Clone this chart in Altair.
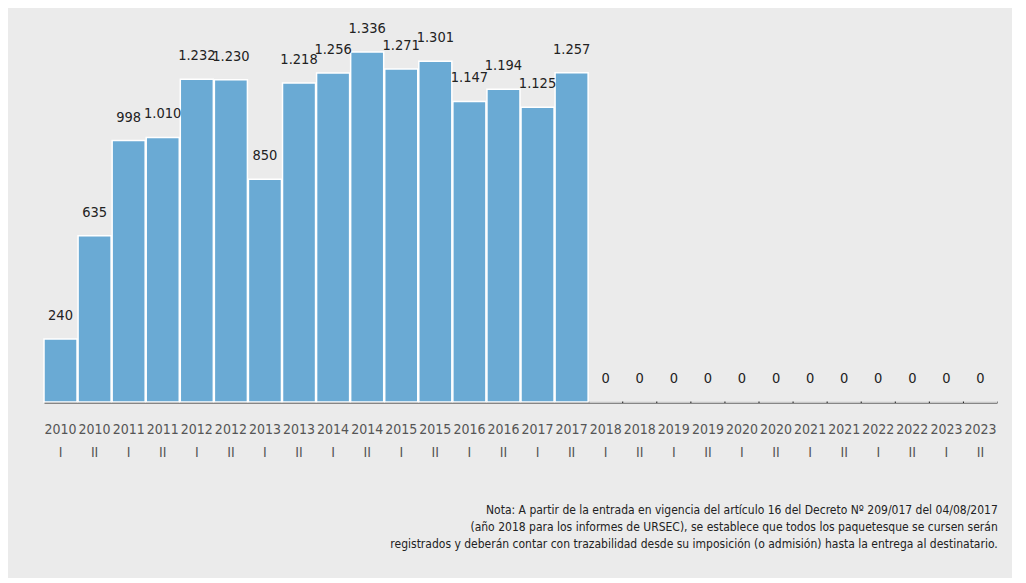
import altair as alt
import pandas as pd

years = [str(y) for y in range(2010, 2024) for _ in (0, 1)]
halves = ["I", "II"] * 14
values = [240, 635, 998, 1010, 1232, 1230, 850, 1218, 1256, 1336, 1271, 1301,
          1147, 1194, 1125, 1257, 0, 0, 0, 0, 0, 0, 0, 0, 0, 0, 0, 0]
value_labels = ["240", "635", "998", "1.010", "1.232", "1.230", "850", "1.218",
                "1.256", "1.336", "1.271", "1.301", "1.147", "1.194", "1.125",
                "1.257", "0", "0", "0", "0", "0", "0", "0", "0", "0", "0", "0", "0"]
note_lines = [
    "Nota: A partir de la entrada en vigencia del artículo 16 del Decreto Nº 209/017 del 04/08/2017",
    "(año 2018 para los informes de URSEC), se establece que todos los paquetesque se cursen serán",
    "registrados y deberán contar con trazabilidad desde su imposición (o admisión) hasta la entrega al destinatario.",
]

periods = [f"{y} {h}" for y, h in zip(years, halves)]
df = pd.DataFrame({"period": periods, "value": values, "label": value_labels})

FONT = "'Liberation Sans Narrow', 'DejaVu Sans Condensed', 'Roboto Condensed', sans-serif"

x = alt.X("period:N", sort=periods,
          scale=alt.Scale(paddingInner=0.03, paddingOuter=0),
          axis=alt.Axis(title=None, labelAngle=0, ticks=False,
                        labelExpr="split(datum.label, ' ')",
                        labelFont=FONT, labelFontSize=14, labelColor="#555555",
                        labelLineHeight=23, labelPadding=20,
                        domainColor="#222222", domainWidth=2))
y = alt.Y("value:Q", scale=alt.Scale(domain=[0, 1500], nice=False), axis=None)

bars = alt.Chart(df).mark_bar(color="#6aaad4", stroke="white", strokeWidth=1.5).encode(x=x, y=y)
labels = alt.Chart(df).mark_text(baseline="bottom", dy=-16, font=FONT, fontSize=14.5,
                                 color="#222222").encode(x=x, y=y, text="label:N")

chart = (bars + labels).properties(
    width=953, height=393,
    padding={"left": 35, "top": 1, "right": 14, "bottom": 28},
    background="#ebebeb",
    title=alt.TitleParams(text=note_lines, orient="bottom", anchor="end",
                          font=FONT, fontSize=12, fontWeight="normal",
                          color="#222222", lineHeight=17, offset=46),
).configure_view(stroke=None)

chart.save("out.html", embed_options={"renderer": "svg", "actions": False})
